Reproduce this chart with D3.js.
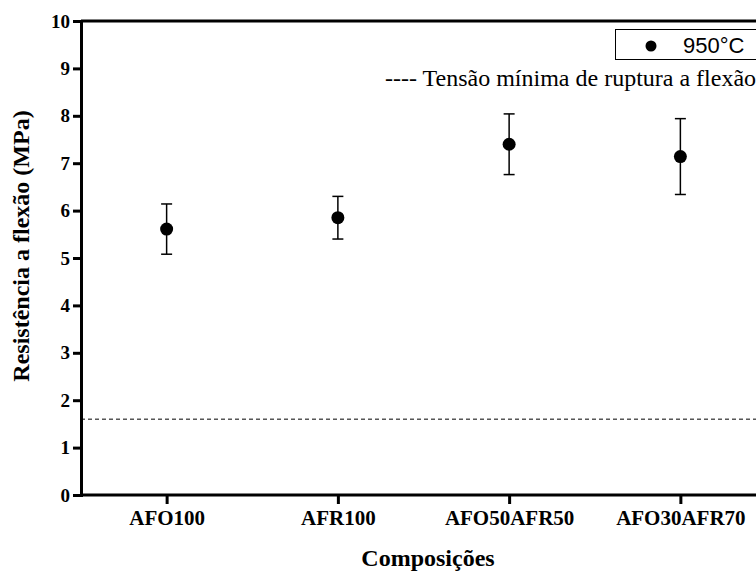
<!DOCTYPE html>
<html>
<head>
<meta charset="utf-8">
<script src="https://cdn.jsdelivr.net/npm/d3@7"></script>
<style>
  html, body { margin: 0; padding: 0; background: #fff; }
  svg { display: block; }
</style>
</head>
<body>
<script>
'use strict';

// data
var categories = ['AFO100', 'AFR100', 'AFO50AFR50', 'AFO30AFR70'];
var means = [5.61, 5.85, 7.40, 7.14];
var deviations = [0.53, 0.45, 0.64, 0.80];
var minStress = 1.6;
var yTickValues = [0, 1, 2, 3, 4, 5, 6, 7, 8, 9, 10];
var seriesLabel = '950°C';
var lineLabel = '---- Tensão mínima de ruptura a flexão';

(function() {

    var width = 756,
        height = 572;

    var plotLeft = 81, plotTop = 21, plotBottom = 495, plotRight = 766;

    var serif = '"Liberation Serif", "Times New Roman", serif';
    var sans = '"Liberation Sans", Arial, sans-serif';

    var svg = d3.select('body')
        .append('svg')
        .attr('width', width)
        .attr('height', height);

    var x = d3.scalePoint()
        .domain(categories)
        .range([plotLeft, plotRight])
        .padding(0.5);

    var y = d3.scaleLinear()
        .domain([0, 10])
        .range([plotBottom, plotTop]);

    var points = categories.map(function(c, i) {
        return { cat: c, mean: means[i], sd: deviations[i] };
    });

    // minimum stress line
    svg.append('line')
        .attr('x1', plotLeft)
        .attr('x2', width)
        .attr('y1', y(minStress))
        .attr('y2', y(minStress))
        .attr('stroke', '#000')
        .attr('stroke-width', 1)
        .attr('stroke-dasharray', '4,3');

    // top frame line
    svg.append('line')
        .attr('x1', plotLeft)
        .attr('x2', width)
        .attr('y1', y(10))
        .attr('y2', y(10))
        .attr('stroke', '#000')
        .attr('stroke-width', 3);

    // y axis
    var yAxis = svg.append('g')
        .attr('transform', 'translate(' + plotLeft + ',0)')
        .call(d3.axisLeft(y).tickValues(yTickValues).tickSize(8).tickPadding(3).tickFormat(d3.format('d')));
    yAxis.select('.domain').attr('stroke-width', 3);
    yAxis.selectAll('.tick line').attr('stroke-width', 3);
    yAxis.selectAll('text')
        .attr('font-family', serif)
        .attr('font-weight', 'bold')
        .attr('font-size', 19)
        .attr('fill', '#000');

    // x axis
    var xAxis = svg.append('g')
        .attr('transform', 'translate(0,' + plotBottom + ')')
        .call(d3.axisBottom(x).tickSize(9).tickPadding(6));
    xAxis.select('.domain').attr('stroke-width', 3)
        .attr('d', 'M' + plotLeft + ',0H' + plotRight);
    xAxis.selectAll('.tick line').attr('stroke-width', 3);
    xAxis.selectAll('text')
        .attr('font-family', serif)
        .attr('font-weight', 'bold')
        .attr('font-size', 21)
        .attr('fill', '#000');

    // axis titles
    svg.append('text')
        .attr('transform', 'translate(29,' + ((plotTop + plotBottom) / 2 - 12) + ') rotate(-90)')
        .attr('text-anchor', 'middle')
        .attr('font-family', serif)
        .attr('font-weight', 'bold')
        .attr('font-size', 24)
        .text('Resistência a flexão (MPa)');

    svg.append('text')
        .attr('x', 428)
        .attr('y', 566)
        .attr('text-anchor', 'middle')
        .attr('font-family', serif)
        .attr('font-weight', 'bold')
        .attr('font-size', 24)
        .text('Composições');

    // error bars
    var bars = svg.selectAll('g.err')
        .data(points)
        .enter()
        .append('g')
        .attr('class', 'err');

    bars.append('line')
        .attr('x1', function(d) { return x(d.cat); })
        .attr('x2', function(d) { return x(d.cat); })
        .attr('y1', function(d) { return y(d.mean + d.sd); })
        .attr('y2', function(d) { return y(d.mean - d.sd); })
        .attr('stroke', '#000')
        .attr('stroke-width', 1.5);

    [1, -1].forEach(function(s) {
        bars.append('line')
            .attr('x1', function(d) { return x(d.cat) - 5.5; })
            .attr('x2', function(d) { return x(d.cat) + 5.5; })
            .attr('y1', function(d) { return y(d.mean + s * d.sd); })
            .attr('y2', function(d) { return y(d.mean + s * d.sd); })
            .attr('stroke', '#000')
            .attr('stroke-width', 1.5);
    });

    bars.append('circle')
        .attr('cx', function(d) { return x(d.cat); })
        .attr('cy', function(d) { return y(d.mean); })
        .attr('r', 6.5)
        .attr('fill', '#000');

    // legend
    var legend = svg.append('g');
    legend.append('rect')
        .attr('x', 615.5)
        .attr('y', 29.5)
        .attr('width', 160)
        .attr('height', 30)
        .attr('fill', '#fff')
        .attr('stroke', '#000')
        .attr('stroke-width', 1);
    legend.append('circle')
        .attr('cx', 651)
        .attr('cy', 46)
        .attr('r', 5.5)
        .attr('fill', '#000');
    legend.append('text')
        .attr('x', 683)
        .attr('y', 53)
        .attr('font-family', sans)
        .attr('font-size', 22)
        .text(seriesLabel);
    legend.append('text')
        .attr('x', 385)
        .attr('y', 86)
        .attr('font-family', serif)
        .attr('font-size', 24)
        .text(lineLabel);

})();
</script>
</body>
</html>
